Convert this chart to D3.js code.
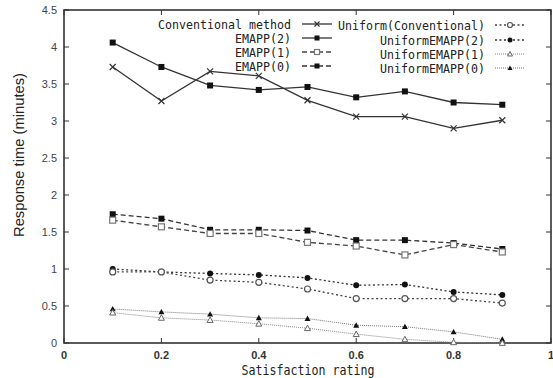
<!DOCTYPE html>
<html>
<head>
<meta charset="utf-8">
<script src="https://cdn.jsdelivr.net/npm/d3@7"></script>
<style>
  html, body { margin: 0; padding: 0; background: #fff; }
  svg { display: block; }
  .tick-y { font-family: "Liberation Sans", Arial, sans-serif; font-size: 11px; fill: #444; }
  .tick-x { font-family: "Liberation Sans", Arial, sans-serif; font-size: 11px; fill: #333; font-weight: bold; }
  .mono { font-family: "DejaVu Sans Mono", monospace; fill: #222; }
</style>
</head>
<body>
<svg id="chart" width="553" height="378"></svg>
<script>
// data
const xVals = [0.1, 0.2, 0.3, 0.4, 0.5, 0.6, 0.7, 0.8, 0.9];
const conventional = [3.73, 3.27, 3.67, 3.61, 3.28, 3.06, 3.06, 2.90, 3.01];
const emapp2 = [4.06, 3.73, 3.48, 3.42, 3.46, 3.32, 3.40, 3.25, 3.22];
const emapp1 = [1.66, 1.57, 1.48, 1.48, 1.36, 1.31, 1.19, 1.33, 1.23];
const emapp0 = [1.74, 1.68, 1.53, 1.53, 1.52, 1.39, 1.39, 1.35, 1.27];
const uniformConv = [0.96, 0.96, 0.85, 0.82, 0.73, 0.60, 0.60, 0.60, 0.54];
const uniformEmapp2 = [1.00, 0.96, 0.94, 0.92, 0.88, 0.78, 0.79, 0.69, 0.65];
const uniformEmapp1 = [0.41, 0.34, 0.31, 0.26, 0.20, 0.12, 0.05, 0.01, 0.00];
const uniformEmapp0 = [0.46, 0.42, 0.39, 0.34, 0.33, 0.24, 0.22, 0.15, 0.05];

const xTicks = [0, 0.2, 0.4, 0.6, 0.8, 1];
const yTicks = [0, 0.5, 1, 1.5, 2, 2.5, 3, 3.5, 4, 4.5];
const xTickLabels = ["0", "0.2", "0.4", "0.6", "0.8", "1"];
const yTickLabels = ["0", "0.5", "1", "1.5", "2", "2.5", "3", "3.5", "4", "4.5"];

const series = [
  { name: "Conventional method", values: conventional, marker: "cross", dash: null, color: "#333", col: 0, row: 0 },
  { name: "EMAPP(2)", values: emapp2, marker: "square", dash: null, color: "#333", col: 0, row: 1 },
  { name: "EMAPP(1)", values: emapp1, marker: "squareOpen", dash: "5,3", color: "#444", col: 0, row: 2 },
  { name: "EMAPP(0)", values: emapp0, marker: "square", dash: "5,3", color: "#333", col: 0, row: 3 },
  { name: "Uniform(Conventional)", values: uniformConv, marker: "circleOpen", dash: "2,2.5", color: "#444", col: 1, row: 0 },
  { name: "UniformEMAPP(2)", values: uniformEmapp2, marker: "circle", dash: "2,2.5", color: "#333", col: 1, row: 1 },
  { name: "UniformEMAPP(1)", values: uniformEmapp1, marker: "triangleOpen", dash: "1,1", color: "#888", col: 1, row: 2 },
  { name: "UniformEMAPP(0)", values: uniformEmapp0, marker: "triangle", dash: "1,1", color: "#777", col: 1, row: 3 }
];

const svg = d3.select("#chart");
const plotLeft = 64, plotRight = 551, plotTop = 10, plotBottom = 343;

const x = d3.scaleLinear().domain([0, 1]).range([plotLeft, plotRight]);
const y = d3.scaleLinear().domain([0, 4.5]).range([plotBottom, plotTop]);

// frame
svg.append("rect")
  .attr("x", plotLeft).attr("y", plotTop)
  .attr("width", plotRight - plotLeft).attr("height", plotBottom - plotTop)
  .attr("fill", "none").attr("stroke", "#333").attr("stroke-width", 1.6);

// ticks (inward, mirrored)
const tickG = svg.append("g").attr("stroke", "#333").attr("stroke-width", 1);
yTicks.forEach(v => {
  tickG.append("line").attr("x1", plotLeft).attr("x2", plotLeft + 5).attr("y1", y(v)).attr("y2", y(v));
  tickG.append("line").attr("x1", plotRight).attr("x2", plotRight - 5).attr("y1", y(v)).attr("y2", y(v));
});
xTicks.forEach(v => {
  tickG.append("line").attr("x1", x(v)).attr("x2", x(v)).attr("y1", plotBottom).attr("y2", plotBottom - 5);
  tickG.append("line").attr("x1", x(v)).attr("x2", x(v)).attr("y1", plotTop).attr("y2", plotTop + 5);
});

// tick labels
svg.append("g").selectAll("text")
  .data(yTicks)
  .join("text")
    .attr("class", "tick-y")
    .attr("x", plotLeft - 7)
    .attr("y", d => y(d) + 4)
    .attr("text-anchor", "end")
    .text((d, i) => yTickLabels[i]);

svg.append("g").selectAll("text")
  .data(xTicks)
  .join("text")
    .attr("class", "tick-x")
    .attr("x", d => x(d))
    .attr("y", 359)
    .attr("text-anchor", "middle")
    .text((d, i) => xTickLabels[i]);

// axis titles
svg.append("text")
  .attr("transform", "translate(24,155) rotate(-90)")
  .attr("text-anchor", "middle")
  .attr("font-family", "Liberation Sans, Arial, sans-serif")
  .attr("font-size", 15)
  .attr("fill", "#222")
  .attr("textLength", 164)
  .attr("lengthAdjust", "spacingAndGlyphs")
  .text("Response time  (minutes)");

svg.append("text")
  .attr("class", "mono")
  .attr("x", 308).attr("y", 375)
  .attr("text-anchor", "middle")
  .attr("font-size", 14)
  .attr("textLength", 133)
  .attr("lengthAdjust", "spacingAndGlyphs")
  .text("Satisfaction rating");

// marker drawing
function drawMarker(g, type, cx, cy, color, s = 3) {
  switch (type) {
    case "cross":
      g.append("path")
        .attr("d", `M${cx - s},${cy - s}L${cx + s},${cy + s}M${cx - s},${cy + s}L${cx + s},${cy - s}`)
        .attr("stroke", color).attr("stroke-width", 1.2).attr("fill", "none");
      break;
    case "square":
      g.append("rect").attr("x", cx - s).attr("y", cy - s).attr("width", 2 * s).attr("height", 2 * s)
        .attr("fill", "#111");
      break;
    case "squareOpen":
      g.append("rect").attr("x", cx - s).attr("y", cy - s).attr("width", 2 * s).attr("height", 2 * s)
        .attr("fill", "#fff").attr("stroke", "#777").attr("stroke-width", 1.2);
      break;
    case "circle":
      g.append("circle").attr("cx", cx).attr("cy", cy).attr("r", s).attr("fill", "#111");
      break;
    case "circleOpen":
      g.append("circle").attr("cx", cx).attr("cy", cy).attr("r", s)
        .attr("fill", "#fff").attr("stroke", "#555").attr("stroke-width", 1.2);
      break;
    case "triangle":
      g.append("path")
        .attr("d", `M${cx},${cy - s}L${cx + s},${cy + s * 0.8}L${cx - s},${cy + s * 0.8}Z`)
        .attr("fill", "#111");
      break;
    case "triangleOpen":
      g.append("path")
        .attr("d", `M${cx},${cy - s}L${cx + s},${cy + s * 0.8}L${cx - s},${cy + s * 0.8}Z`)
        .attr("fill", "#fff").attr("stroke", "#666").attr("stroke-width", 1);
      break;
  }
}

// series lines and markers
const line = d3.line().x(d => x(d.x)).y(d => y(d.v));
const plotG = svg.append("g");
series.slice().reverse().forEach(s => {
  const pts = xVals.map((xv, i) => ({ x: xv, v: s.values[i] }));
  plotG.append("path")
    .datum(pts)
    .attr("d", line)
    .attr("fill", "none")
    .attr("stroke", s.color)
    .attr("stroke-width", s.dash === "1,1" ? 1 : 1.3)
    .attr("stroke-dasharray", s.dash);
  const mg = plotG.append("g");
  pts.forEach(p => drawMarker(mg, s.marker, x(p.x), y(p.v), s.color));
});

// legend
const legendCols = [
  { textEnd: 291, x1: 302, x2: 332, rows: [24, 38, 52, 66] },
  { textEnd: 485, x1: 495, x2: 525, rows: [25, 40, 54, 68] }
];
const legendG = svg.append("g");
series.forEach(s => {
  const c = legendCols[s.col];
  const ry = c.rows[s.row];
  legendG.append("text")
    .attr("class", "mono")
    .attr("x", c.textEnd)
    .attr("y", ry + 4.5)
    .attr("text-anchor", "end")
    .attr("font-size", 12)
    .attr("textLength", s.name.length * 7)
    .attr("lengthAdjust", "spacingAndGlyphs")
    .text(s.name);
  legendG.append("line")
    .attr("x1", c.x1).attr("x2", c.x2)
    .attr("y1", ry).attr("y2", ry)
    .attr("stroke", s.color)
    .attr("stroke-width", s.dash === "1,1" ? 1 : 1.3)
    .attr("stroke-dasharray", s.dash);
  drawMarker(legendG, s.marker, (c.x1 + c.x2) / 2, ry, s.color, 2.5);
});
</script>
</body>
</html>
